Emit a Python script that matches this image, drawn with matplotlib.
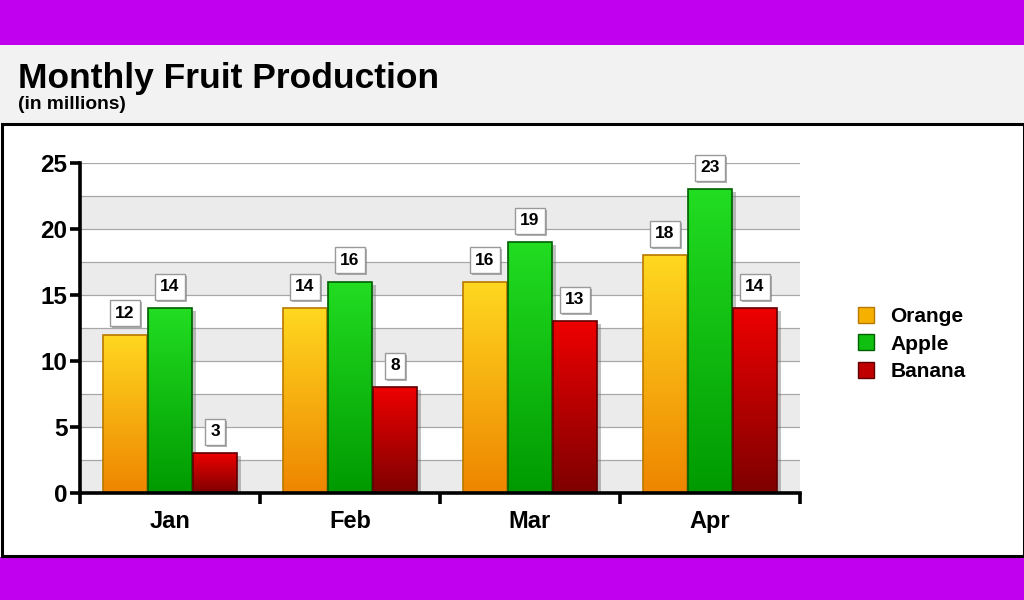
import numpy as np
import matplotlib
matplotlib.use("Agg")
import matplotlib.pyplot as plt
from matplotlib.patches import Rectangle
from matplotlib.colors import LinearSegmentedColormap
from matplotlib.lines import Line2D
import matplotlib.patheffects as pe

plt.rcParams['font.family'] = ['Liberation Sans', 'DejaVu Sans']

months = ["Jan", "Feb", "Mar", "Apr"]
series = ["Orange", "Apple", "Banana"]
orange = [12, 14, 16, 18]
apple = [14, 16, 19, 23]
banana = [3, 8, 13, 14]
values = [orange, apple, banana]

grad_top = ["#FFD820", "#22DD22", "#EE0000"]
grad_bot = ["#EE8500", "#009A00", "#7E0000"]
edges = ["#B87800", "#005F00", "#600000"]
legend_cols = ["#F5B000", "#10C010", "#C00000"]

W, H = 1024, 600
fig = plt.figure(figsize=(W / 100, H / 100), dpi=100)
fig.patch.set_facecolor("white")

def fy(py):
    return 1 - py / H

# purple bands
fig.add_artist(Rectangle((0, fy(45)), 1, 45 / H, transform=fig.transFigure,
                         fc="#C000EE", ec="none", zorder=0))
fig.add_artist(Rectangle((0, 0), 1, 43 / H, transform=fig.transFigure,
                         fc="#C000EE", ec="none", zorder=0))
# title band
fig.add_artist(Rectangle((0, fy(123)), 1, 78 / H, transform=fig.transFigure,
                         fc="#F2F2F2", ec="none", zorder=0))
# border box
fig.add_artist(Rectangle((1.5 / W, fy(556)), 1 - 1.5 / W, (556 - 124) / H,
                         transform=fig.transFigure, fc="white", ec="black",
                         lw=2.2, zorder=0.5))

fig.text(18 / W, fy(88), "Monthly Fruit Production", fontsize=25.5,
         fontweight="bold", color="black", ha="left", va="baseline")
fig.text(18 / W, fy(108.5), "(in millions)", fontsize=13.8,
         fontweight="bold", color="black", ha="left", va="baseline")

ax = fig.add_axes([80 / W, fy(493), 720 / W, 330 / H])
ax.set_zorder(2)
ax.patch.set_alpha(0)
ax.set_xlim(-0.5, len(months) - 0.5)
ax.set_ylim(0, 25)

# alternating bands and grid lines
for y0 in np.arange(0, 25, 5):
    ax.axhspan(y0, y0 + 2.5, color="#EBEBEB", zorder=0, lw=0)
for y in np.arange(2.5, 25.1, 2.5):
    ax.axhline(y, color="#A8A8A8", lw=0.9, zorder=0.5)

bw = 0.25
x = np.arange(len(months))
for i, vals in enumerate(values):
    cmap = LinearSegmentedColormap.from_list(series[i], [grad_bot[i], grad_top[i]])
    xs = x + (i - 1) * bw
    bars = ax.bar(xs, vals, width=bw * 0.97, fc="none", ec=edges[i], lw=1.2, zorder=3)
    for b, v in zip(bars, vals):
        x0 = b.get_x()
        w = b.get_width()
        grad = np.linspace(0, 1, 256).reshape(-1, 1)
        im = ax.imshow(grad, cmap=cmap, origin="lower", aspect="auto",
                       extent=(x0, x0 + w, 0, v), zorder=2)
        im.set_clip_path(b)
        sh = Rectangle((x0, 0), w, v, fc="#888888", ec="none", zorder=1.5)
        sh.set_path_effects([pe.SimplePatchShadow(offset=(3, -2), shadow_rgbFace="#777777", alpha=0.45)])
        sh.set_alpha(0)
        ax.add_patch(sh)
        t = ax.annotate(str(v), xy=(x0 + w / 2, v), xytext=(0, 15.5),
                        textcoords="offset points", ha="center", va="center",
                        fontsize=12.5, fontweight="bold", color="black", zorder=5,
                        bbox=dict(boxstyle="square,pad=0.32", fc="white",
                                  ec="#9A9A9A", lw=1.0))
        t.get_bbox_patch().set_path_effects(
            [pe.SimplePatchShadow(offset=(1.5, -1.5), shadow_rgbFace="#666666", alpha=0.5),
             pe.Normal()])

ax.set_ylim(0, 25)
ax.set_xlim(-0.5, len(months) - 0.5)

for s in ["top", "right"]:
    ax.spines[s].set_visible(False)
for s in ["left", "bottom"]:
    ax.spines[s].set_linewidth(2.6)
    ax.spines[s].set_color("black")
    ax.spines[s].set_zorder(6)

ax.set_yticks(np.arange(0, 26, 5))
ax.tick_params(axis="y", direction="out", length=7, width=2.6, labelsize=17.5, pad=2)
for lab in ax.get_yticklabels():
    lab.set_fontweight("bold")

ax.set_xticks(x)
ax.set_xticklabels(months, fontsize=17, fontweight="bold")
ax.tick_params(axis="x", which="major", length=0, pad=12)
ax.set_xticks(np.arange(-0.5, len(months), 1.0), minor=True)
ax.tick_params(axis="x", which="minor", direction="out", length=8, width=2.6)

handles = [Line2D([0], [0], marker="s", linestyle="none", markersize=11,
                  markerfacecolor=legend_cols[i], markeredgecolor=edges[i],
                  markeredgewidth=1.0) for i in range(3)]
leg = fig.legend(handles, series, loc="center left",
                 bbox_to_anchor=(835 / W, fy(344)), frameon=False,
                 prop={"size": 15, "weight": "bold"}, handletextpad=0.55,
                 labelspacing=0.4, handlelength=1.2)

fig.savefig("out.png", dpi=100)
